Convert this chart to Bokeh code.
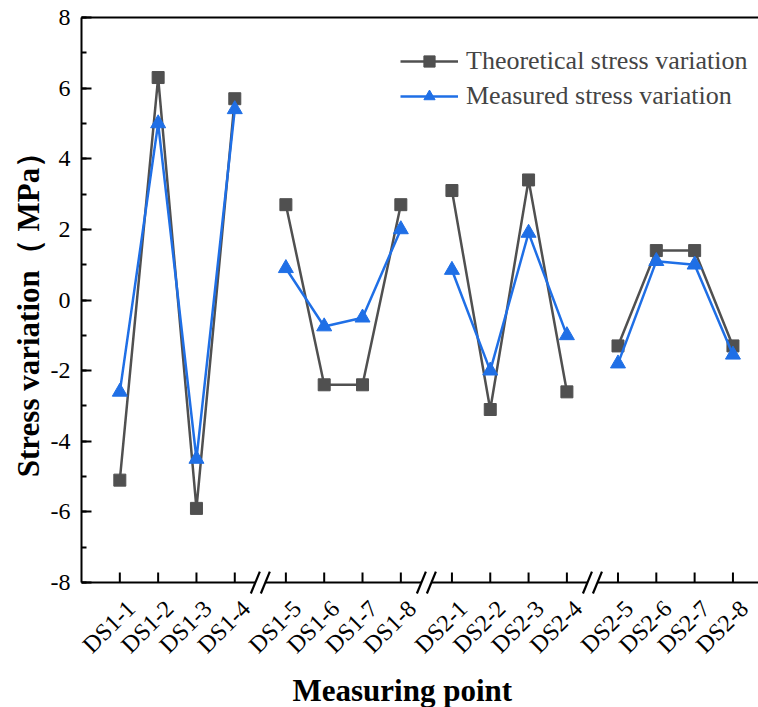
import numpy as np
from bokeh.plotting import figure
from bokeh.models import (FixedTicker, SingleIntervalTicker, LinearAxis, Title,
                          Legend, LegendItem, Range1d)
from bokeh.embed import file_html
from bokeh.resources import INLINE

# ---- data ----
points = ["DS1-1", "DS1-2", "DS1-3", "DS1-4",
          "DS1-5", "DS1-6", "DS1-7", "DS1-8",
          "DS2-1", "DS2-2", "DS2-3", "DS2-4",
          "DS2-5", "DS2-6", "DS2-7", "DS2-8"]
theoretical = [-5.1, 6.3, -5.9, 5.7,
               2.7, -2.4, -2.4, 2.7,
               3.1, -3.1, 3.4, -2.6,
               -1.3, 1.4, 1.4, -1.3]
measured = [-2.6, 5.0, -4.5, 5.4,
            0.9, -0.75, -0.5, 2.0,
            0.85, -2.0, 1.9, -1.0,
            -1.8, 1.1, 1.0, -1.55]
y_ticks = [-8, -6, -4, -2, 0, 2, 4, 6, 8]

# ---- layout of broken x axis (4 groups of 4 points) ----
group_size = 4
step = 3          # spacing between points in a group
gap = 4           # spacing across a break
idx = np.arange(len(points))
grp = idx // group_size
pos = step + grp * (step * (group_size - 1) + gap) + (idx % group_size) * step
breaks = [(pos[g * group_size - 1] + pos[g * group_size]) / 2 for g in range(1, 4)]

def with_gaps(vals):
    xs, ys = [], []
    for i, (x, v) in enumerate(zip(pos, vals)):
        if i > 0 and i % group_size == 0:
            xs.append(np.nan); ys.append(np.nan)
        xs.append(float(x)); ys.append(v)
    return xs, ys

GRAY = "#505050"
BLUE = "#1f6fe6"
SERIF = "Liberation Serif"

X0, X1 = 0, 53
YMIN, YMAX = y_ticks[0], y_ticks[-1]
FRAME_W, FRAME_H = 758 - 81, 598 - 17
pad_px = 14                                   # room under the x axis line for break marks
ppu_y = (FRAME_H - pad_px) / (YMAX - YMIN)
y_lo = YMIN - pad_px / ppu_y
ppu_x = FRAME_W / (X1 - X0)
label_shift = 0.875                           # tick-label anchor shift (data units)

p = figure(width=758, height=707, output_backend="svg", toolbar_location=None,
           x_range=Range1d(X0, X1), y_range=Range1d(y_lo, YMAX),
           min_border_left=81, min_border_right=0, min_border_top=17,
           min_border_bottom=109)
p.outline_line_color = None
p.grid.visible = False
p.background_fill_color = "white"
p.border_fill_color = "white"

tx, ty = with_gaps(theoretical)
mx, my = with_gaps(measured)
l1 = p.line(tx, ty, line_color=GRAY, line_width=2.5)
s1 = p.scatter(pos, theoretical, marker="square", size=12, fill_color=GRAY,
               line_color=GRAY)
l2 = p.line(mx, my, line_color=BLUE, line_width=2.5)
s2 = p.scatter(pos, measured, marker="triangle", size=15, fill_color=BLUE,
               line_color=BLUE)

# ---- broken bottom axis line, inward ticks and break marks ----
gx = 5 / ppu_x           # half gap between the two slashes
hx = 4.5 / ppu_x         # half horizontal extent of a slash
hy = 11 / ppu_y          # half vertical extent of a slash
tick_len = 10 / ppu_y
seg_x0 = [X0] + [b + gx for b in breaks]
seg_x1 = [b - gx for b in breaks] + [X1]
p.segment(seg_x0, [YMIN] * len(seg_x0), seg_x1, [YMIN] * len(seg_x1),
          line_color="black", line_width=2)
p.segment(list(pos), [YMIN] * len(pos), list(pos), [YMIN + tick_len] * len(pos),
          line_color="black", line_width=2)
sl_c = [b + s * gx for b in breaks for s in (-1, 1)]
p.segment([c - hx for c in sl_c], [YMIN - hy] * len(sl_c),
          [c + hx for c in sl_c], [YMIN + hy] * len(sl_c),
          line_color="black", line_width=2.2)

# axes
xa = p.xaxis[0]
label_pos = [float(v) + label_shift for v in pos]
xa.ticker = FixedTicker(ticks=label_pos)
xa.major_label_overrides = {v: n for v, n in zip(label_pos, points)}
xa.major_label_orientation = np.pi / 4
xa.minor_tick_line_color = None
xa.major_tick_line_color = None
xa.axis_line_color = None
xa.major_tick_in = 0
xa.major_tick_out = 0
xa.major_label_standoff = 8

ya = p.yaxis[0]
ya.ticker = SingleIntervalTicker(interval=2, num_minor_ticks=2)
ya.major_label_overrides = {t: str(t) for t in y_ticks}
ya.bounds = (YMIN, YMAX)
ya.major_tick_in = 10
ya.major_tick_out = 0
ya.minor_tick_in = 5
ya.minor_tick_out = 0
ya.axis_line_width = 2
ya.major_tick_line_width = 2
ya.minor_tick_line_width = 2
ya.axis_line_color = "black"
ya.major_tick_line_color = "black"
ya.minor_tick_line_color = "black"
ya.axis_label = "Stress variation（ MPa）"
ya.axis_label_text_font = SERIF
ya.axis_label_text_font_size = "31px"
ya.axis_label_text_font_style = "bold"
ya.axis_label_text_color = "black"
ya.major_label_standoff = 11
ya.axis_label_standoff = 2

for ax in (xa, ya):
    ax.major_label_text_font = SERIF
    ax.major_label_text_font_size = "24px"
    ax.major_label_text_color = "black"

top = LinearAxis(ticker=FixedTicker(ticks=[]), axis_line_width=2,
                 axis_line_color="black")
top.major_label_text_font_size = "0px"
p.add_layout(top, "above")

xtitle = Title(text="Measuring point", align="left", offset=211,
               text_font=SERIF, text_font_size="31px", text_font_style="bold",
               text_color="black", standoff=0)
p.add_layout(xtitle, "below")

legend = Legend(items=[
    LegendItem(label="Theoretical stress variation", renderers=[l1, s1]),
    LegendItem(label="Measured stress variation", renderers=[l2, s2]),
], location=(319, 485))
legend.border_line_color = None
legend.background_fill_alpha = 0
legend.label_text_font = SERIF
legend.label_text_font_size = "26px"
legend.glyph_width = 58
legend.glyph_height = 28
legend.label_height = 28
legend.label_standoff = 8
legend.spacing = 5
legend.padding = 0
legend.margin = 0
p.add_layout(legend, "center")

open("out.html", "w").write(file_html(p, INLINE))
